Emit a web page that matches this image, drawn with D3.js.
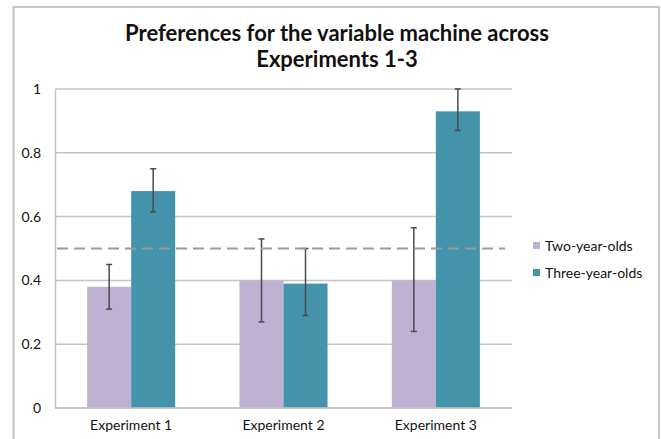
<!DOCTYPE html>
<html>
<head>
<meta charset="utf-8">
<script src="https://cdn.jsdelivr.net/npm/d3@7"></script>
<style>
  body { margin: 0; background: #fff; }
  text { font-family: Lato, "Open Sans", sans-serif; fill: #111; }
</style>
</head>
<body>
<svg id="chart"></svg>
<script>
// categories and series
var experiments = ['Experiment 1', 'Experiment 2', 'Experiment 3'];
var groups = ['Two-year-olds', 'Three-year-olds'];
var twoYearOlds = [0.38, 0.40, 0.40];
var threeYearOlds = [0.68, 0.39, 0.93];
// error bars (lower, upper)
var twoErr = [[0.31, 0.45], [0.27, 0.53], [0.24, 0.565]];
var threeErr = [[0.615, 0.75], [0.29, 0.50], [0.87, 1.0]];
var yTicks = [0, 0.2, 0.4, 0.6, 0.8, 1];
var chance = 0.5;

var W = 661, H = 439;
var svg = d3.select('#chart').attr('width', W).attr('height', H);

var margin = {left: 55, right: 149, top: 89, bottom: 31};

var x = d3.scaleBand()
    .domain(experiments)
    .range([margin.left, W - margin.right]);

var xInner = d3.scaleBand()
    .domain(groups)
    .range([0, x.bandwidth()])
    .paddingInner(0)
    .paddingOuter(0.73);

var y = d3.scaleLinear()
    .domain([0, 1])
    .range([H - margin.bottom, margin.top]);

var color = d3.scaleOrdinal().domain(groups).range(['#bfb1d3', '#4393ab']);

// outer frame
svg.append('path')
    .attr('d', 'M13.5,' + H + 'V7H659V' + H)
    .attr('fill', 'none')
    .attr('stroke', '#c6c6c6')
    .attr('stroke-width', 2);

// title
var title = svg.append('text')
    .attr('text-anchor', 'middle')
    .style('font-weight', 'bold')
    .style('font-size', '22px');
title.append('tspan').attr('x', 337).attr('y', 41).text('Preferences for the variable machine across');
title.append('tspan').attr('x', 337).attr('y', 67).text('Experiments 1-3');

// gridlines
svg.append('g')
  .selectAll('line')
  .data(yTicks)
  .enter()
  .append('line')
    .attr('x1', margin.left)
    .attr('x2', W - margin.right)
    .attr('y1', function (d) { return y(d); })
    .attr('y2', function (d) { return y(d); })
    .attr('stroke', '#c4c4c4')
    .attr('stroke-width', 1.5);

// y axis
var yAxis = svg.append('g')
    .attr('transform', 'translate(' + margin.left + ',0)')
    .call(d3.axisLeft(y).tickValues(yTicks).tickSize(0).tickPadding(14)
      .tickFormat(function (d) { return d3.format('')(d); }));
yAxis.select('.domain').attr('stroke', '#c4c4c4').attr('stroke-width', 1.5);
yAxis.selectAll('text').style('font-size', '14px').style('font-family', 'Lato, sans-serif').attr('fill', '#111');

// bars
var rows = experiments.map(function (e, i) {
  return [
    {exp: e, group: groups[0], value: twoYearOlds[i], err: twoErr[i]},
    {exp: e, group: groups[1], value: threeYearOlds[i], err: threeErr[i]}
  ];
});

var cat = svg.append('g').selectAll('g')
  .data(rows)
  .enter()
  .append('g')
    .attr('transform', function (d) { return 'translate(' + x(d[0].exp) + ',0)'; });

cat.selectAll('rect')
  .data(function (d) { return d; })
  .enter()
  .append('rect')
    .attr('x', function (d) { return xInner(d.group); })
    .attr('width', xInner.bandwidth())
    .attr('y', function (d) { return y(d.value); })
    .attr('height', function (d) { return y(0) - y(d.value); })
    .attr('fill', function (d) { return color(d.group); });

// x axis line
svg.append('line')
    .attr('x1', margin.left)
    .attr('x2', W - margin.right)
    .attr('y1', y(0))
    .attr('y2', y(0))
    .attr('stroke', '#c4c4c4')
    .attr('stroke-width', 1.5);

// chance line
svg.append('line')
    .attr('x1', margin.left + 2)
    .attr('x2', 505)
    .attr('y1', y(chance))
    .attr('y2', y(chance))
    .attr('stroke', '#9a9a9a')
    .attr('stroke-width', 2)
    .attr('stroke-dasharray', '11,6');

// error bars
var eb = cat.selectAll('g.err')
  .data(function (d) { return d; })
  .enter()
  .append('g')
    .attr('class', 'err')
    .attr('stroke', '#4a4a4a')
    .attr('stroke-width', 1.5);

function cx(d) { return xInner(d.group) + xInner.bandwidth() / 2; }

eb.append('line')
    .attr('x1', cx).attr('x2', cx)
    .attr('y1', function (d) { return y(d.err[0]); })
    .attr('y2', function (d) { return y(d.err[1]); });
eb.selectAll('line.cap')
  .data(function (d) { return [d.err[0], d.err[1]].map(function (v) { return {v: v, d: d}; }); })
  .enter()
  .append('line')
    .attr('class', 'cap')
    .attr('x1', function (c) { return cx(c.d) - 3; })
    .attr('x2', function (c) { return cx(c.d) + 3; })
    .attr('y1', function (c) { return y(c.v); })
    .attr('y2', function (c) { return y(c.v); });

// x labels
svg.append('g').selectAll('text')
  .data(experiments)
  .enter()
  .append('text')
    .attr('x', function (d) { return x(d) + x.bandwidth() / 2; })
    .attr('y', 430)
    .attr('text-anchor', 'middle')
    .style('font-size', '14px')
    .text(function (d) { return d; });

// legend
var legend = svg.append('g').selectAll('g')
  .data(groups)
  .enter()
  .append('g')
    .attr('transform', function (d, i) { return 'translate(533,' + (242 + i * 27) + ')'; });
legend.append('rect')
    .attr('width', 7).attr('height', 7)
    .attr('fill', function (d) { return color(d); });
legend.append('text')
    .attr('x', 12)
    .attr('y', 4)
    .attr('dy', '0.35em')
    .style('font-size', '14px')
    .text(function (d) { return d; });
</script>
</body>
</html>
